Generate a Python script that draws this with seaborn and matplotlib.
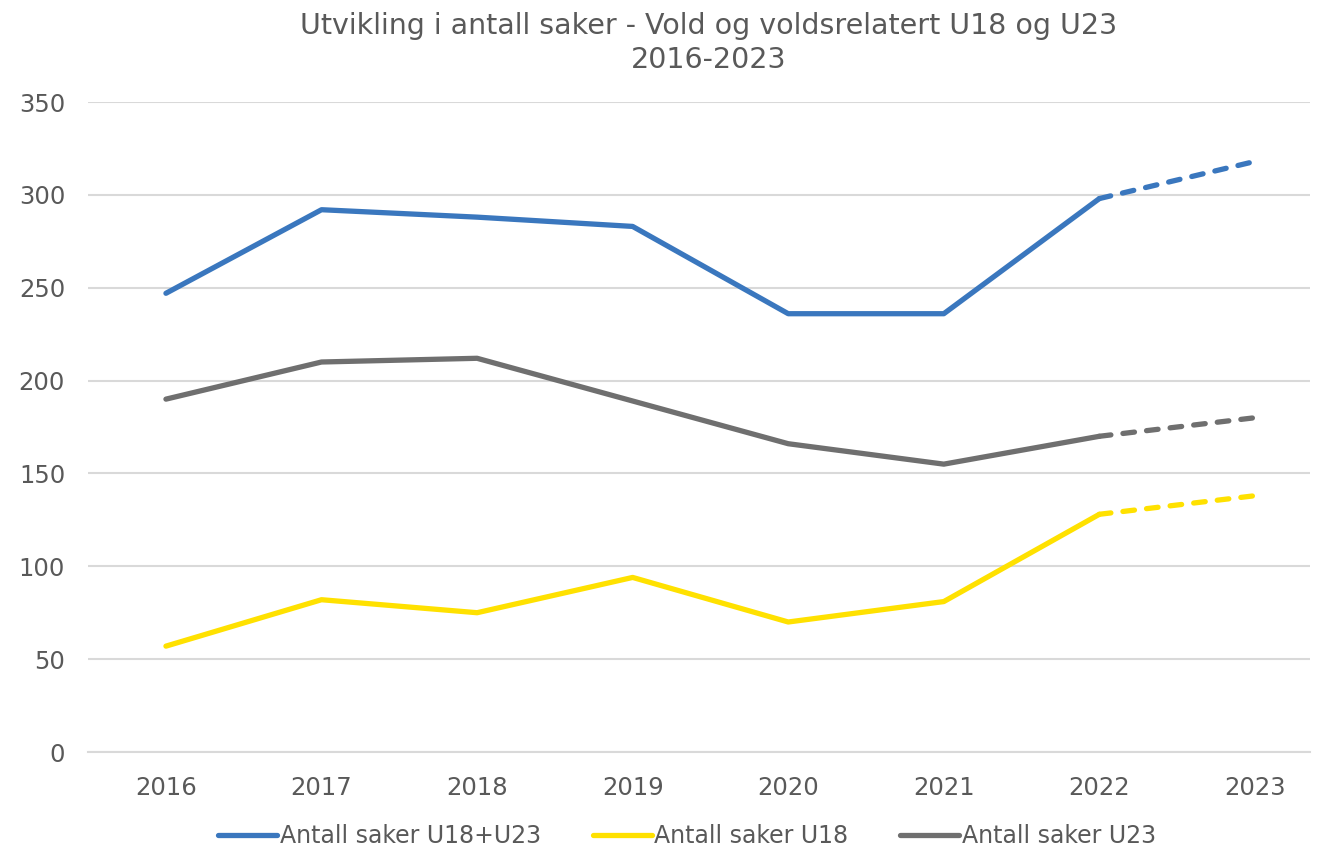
import matplotlib
matplotlib.use("Agg")
import matplotlib.pyplot as plt
import seaborn as sns
import pandas as pd
from matplotlib.lines import Line2D

years = ["2016", "2017", "2018", "2019", "2020", "2021", "2022", "2023"]
total = [247, 292, 288, 283, 236, 236, 298, 318]
u18 = [57, 82, 75, 94, 70, 81, 128, 138]
u23 = [190, 210, 212, 189, 166, 155, 170, 180]
series_names = ["Antall saker U18+U23", "Antall saker U18", "Antall saker U23"]
colors = ["#3A77BE", "#FFE100", "#6F6F6F"]

sns.set_theme(style="white")
plt.rcParams['font.family'] = ['DejaVu Sans']
text_color = "#595959"

fig = plt.figure(figsize=(13.24, 8.49), dpi=100)
ax = fig.add_axes([88/1324, (849-752)/849, 1222/1324, 650/849])

rows = []
for name, vals in zip(series_names, [total, u18, u23]):
    for i, (y, v) in enumerate(zip(years, vals)):
        rows.append({"x": i, "year": y, "value": v, "series": name})
df = pd.DataFrame(rows)

lw = 3.8
for name, col in zip(series_names, colors):
    sub = df[df.series == name]
    solid = sub[sub.x <= 6]
    dashed = sub[sub.x >= 6]
    sns.lineplot(data=solid, x="x", y="value", color=col, linewidth=lw, ax=ax,
                 solid_capstyle="round", solid_joinstyle="round")
    sns.lineplot(data=dashed, x="x", y="value", color=col, linewidth=lw, ax=ax,
                 dashes=False, linestyle=(0, (2.2, 2.3)))
    ax.lines[-1].set_dash_capstyle("round")

ax.set_ylim(0, 350)
ax.set_xlim(-0.501, 7.354)
ax.set_yticks(range(0, 351, 50))
ax.set_xticks(range(len(years)))
ax.set_xticklabels(years)
ax.yaxis.grid(True, color="#D9D9D9", linewidth=1.5)
ax.xaxis.grid(False)
ax.set_axisbelow(True)
for s in ["top", "right", "left"]:
    ax.spines[s].set_visible(False)
ax.spines["bottom"].set_color("#D9D9D9")
ax.spines["bottom"].set_linewidth(1.5)
ax.tick_params(axis="both", colors=text_color, labelsize=17.5, length=0)
ax.tick_params(axis="y", pad=16.5)
ax.tick_params(axis="x", pad=17)
ax.set_xlabel("")
ax.set_ylabel("")

fig.text(0.535, 0.986, "Utvikling i antall saker - Vold og voldsrelatert U18 og U23\n2016-2023",
         ha="center", va="top", fontsize=20.5, color=text_color, linespacing=1.27)

handles = [Line2D([0], [0], color=c, linewidth=lw, solid_capstyle="round") for c in colors]
fig.legend(handles, series_names, loc="center", bbox_to_anchor=(0.519, 0.015),
           ncol=3, frameon=False, fontsize=17, handlelength=2.5, handletextpad=0.1,
           columnspacing=2.2, labelcolor=text_color)

fig.savefig("out.png", dpi=100)
